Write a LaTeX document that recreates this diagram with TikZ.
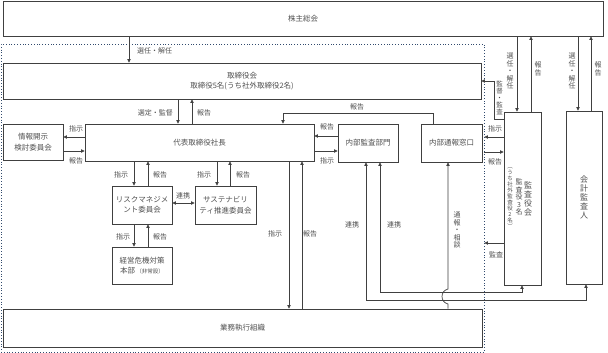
\documentclass[tikz,border=0pt]{standalone}
\usepackage{fontspec}
\setmainfont{Noto Sans CJK JP}
\usetikzlibrary{arrows.meta}
\definecolor{lc}{RGB}{64,64,64}
\definecolor{tc}{RGB}{80,80,80}
\definecolor{dc}{RGB}{50,75,110}
\begin{document}
\begin{tikzpicture}[x=1pt,y=-1pt,
  box/.style={draw=lc, line width=0.8pt, inner sep=0pt, text=tc, font=\fontsize{7.5}{10.5}\selectfont, align=center},
  arr/.style={draw=lc, line width=0.7pt, -{Triangle[length=3.5pt,width=3.4pt]}},
  dbl/.style={draw=lc, line width=0.7pt, {Triangle[length=3.5pt,width=3.4pt]}-{Triangle[length=3.5pt,width=3.4pt]}},
  lab/.style={text=tc, font=\fontsize{7}{8}\selectfont, inner sep=0pt},
  vlab/.style={text=tc, font=\fontsize{7}{7.5}\selectfont, inner sep=0pt, align=center}]
\useasboundingbox (0,0) rectangle (608,353);
\fill[white] (0,0) rectangle (608,353);

% frame
\node[draw=dc, dotted, line width=0.8pt, minimum width=483pt, minimum height=308pt, inner sep=0pt] (frame) at (242.5,198) {};

% boxes
\node[box, minimum width=600pt, minimum height=35pt] (kabu) at (303,18.5) {株主総会};
\node[box, minimum width=478pt, minimum height=36pt] (tori) at (242,81) {取締役会\\取締役5名(うち社外取締役2名)};
\node[box, minimum width=229pt, minimum height=37pt] (daihyo) at (199.5,142.5) {代表取締役社長};
\node[box, minimum width=60pt, minimum height=36pt] (joho) at (33,142) {情報開示\\検討委員会};
\node[box, minimum width=60pt, minimum height=38pt] (naibu) at (368,143) {内部監査部門};
\node[box, minimum width=61pt, minimum height=38pt] (tsuho) at (451.5,143) {内部通報窓口};
\node[box, minimum width=60pt, minimum height=38pt] (risk) at (142,205) {リスクマネジメ\\ント委員会};
\node[box, minimum width=61pt, minimum height=38pt] (sust) at (225.5,205) {サステナビリ\\ティ推進委員会};
\node[box, minimum width=60pt, minimum height=37pt] (kiki) at (142,265.5) {経営危機対策\\本部\,{\fontsize{5.5}{6}\selectfont（非常設）}};
\node[box, minimum width=479pt, minimum height=38pt] (gyomu) at (242.5,328) {業務執行組織};
\node[box, minimum width=37pt, minimum height=173pt] (kansa) at (522.5,198.5) {};
\node[box, minimum width=36pt, minimum height=173pt] (kaikei) at (584,197.5) {};

\node[vlab, font=\fontsize{8}{9}\selectfont] (kansaT1) at (528,199) {監\\査\\役\\会};
\node[vlab] (kansaT2) at (519,197) {監\\査\\役\\3\\名};
\node[vlab, font=\fontsize{5.5}{6}\selectfont] (kansaT3) at (510,198) {︵\\う\\ち\\社\\外\\監\\査\\役\\2\\名\\︶};
\node[vlab, font=\fontsize{8}{9}\selectfont] (kaikeiT) at (584,197) {会\\計\\監\\査\\人};

% connectors top
\draw[arr] (129,0 |- kabu.south) -- (129,0 |- tori.north);
\node[lab, anchor=west] (l1) at (137,51) {選任・解任};
\draw[arr] (178,0 |- tori.south) -- (178,0 |- daihyo.north);
\node[lab, anchor=east] (l2) at (173,113) {選定・監督};
\draw[arr] (192,0 |- daihyo.north) -- (192,0 |- tori.south);
\node[lab, anchor=west] (l3) at (197,113) {報告};
\draw[arr] (433,0 |- tsuho.north) |- (283,113) -- (283,0 |- daihyo.north);
\node[lab] (l4) at (357,107) {報告};

\draw[arr] (daihyo.west |- 0,137) -- (joho.east |- 0,137);
\node[lab] (l5) at (76,129) {指示};
\draw[arr] (joho.east |- 0,151) -- (daihyo.west |- 0,151);
\node[lab] (l6) at (76,161) {報告};
\draw[arr] (naibu.west |- 0,136) -- (daihyo.east |- 0,136);
\node[lab] (l7) at (327,127) {報告};
\draw[arr] (daihyo.east |- 0,151) -- (naibu.west |- 0,151);
\node[lab] (l8) at (327,161) {指示};

% committees
\draw[arr] (134,0 |- daihyo.south) -- (134,0 |- risk.north);
\node[lab] (l9) at (121,175) {指示};
\draw[arr] (148,0 |- risk.north) -- (148,0 |- daihyo.south);
\node[lab] (l10) at (160,175) {報告};
\draw[arr] (217,0 |- daihyo.south) -- (217,0 |- sust.north);
\node[lab] (l11) at (204,175) {指示};
\draw[arr] (230,0 |- sust.north) -- (230,0 |- daihyo.south);
\node[lab] (l12) at (243,175) {報告};
\draw[dbl] (risk.east |- 0,203) -- (sust.west |- 0,203);
\node[lab] (l13) at (183,196) {連携};
\draw[arr] (134,0 |- risk.south) -- (134,0 |- kiki.north);
\node[lab] (l14) at (123,237) {指示};
\draw[arr] (148,0 |- kiki.north) -- (148,0 |- risk.south);
\node[lab] (l15) at (160,237) {報告};

\draw[arr] (289,0 |- daihyo.south) -- (289,0 |- gyomu.north);
\node[lab] (l16) at (275,234) {指示};
\draw[arr] (302,0 |- gyomu.north) -- (302,0 |- daihyo.south);
\node[lab] (l17) at (310,234) {報告};

% audit links
\draw[dbl] (366,0 |- naibu.south) |- (586,300) -- (586,0 |- kaikei.south);
\node[lab] (l18) at (352,225) {連携};
\draw[dbl] (380,0 |- naibu.south) |- (522,292) -- (522,0 |- kansa.south);
\node[lab] (l19) at (394,225) {連携};
\draw[arr] (448,0 |- gyomu.north) -- (448,304) .. controls (440,302) and (440,291) .. (448,289) -- (448,0 |- tsuho.south);
\node[vlab] (l20) at (457,230) {通\\報\\・\\相\\談};

% right side
\draw[arr] (517,0 |- kabu.south) -- (517,0 |- kansa.north);
\node[vlab] (l21) at (510,71) {選\\任\\・\\解\\任};
\draw[arr] (531,0 |- kansa.north) -- (531,0 |- kabu.south);
\node[vlab] (l22) at (538,69) {報\\告};
\draw[arr] (578,0 |- kabu.south) -- (578,0 |- kaikei.north);
\node[vlab] (l23) at (572,71) {選\\任\\・\\解\\任};
\draw[arr] (591,0 |- kaikei.north) -- (591,0 |- kabu.south);
\node[vlab] (l24) at (598,69) {報\\告};

\draw[arr] (kansa.west |- 0,119) -| (494,81) -- (tori.east |- 0,81);
\node[vlab, font=\fontsize{6.5}{7}\selectfont] (l25) at (499.5,98) {監\\督\\・\\監\\査};

\draw[arr] (kansa.west |- 0,137) -- (frame.east |- 0,137);
\node[lab] (l26) at (495,129) {指示};
\draw[arr] (frame.east |- 0,152) -- (kansa.west |- 0,152);
\node[lab] (l27) at (495,162) {報告};
\draw[arr] (kansa.west |- 0,243) -- (frame.east |- 0,243);
\node[lab] (l28) at (496,255) {監査};
\end{tikzpicture}
\end{document}
